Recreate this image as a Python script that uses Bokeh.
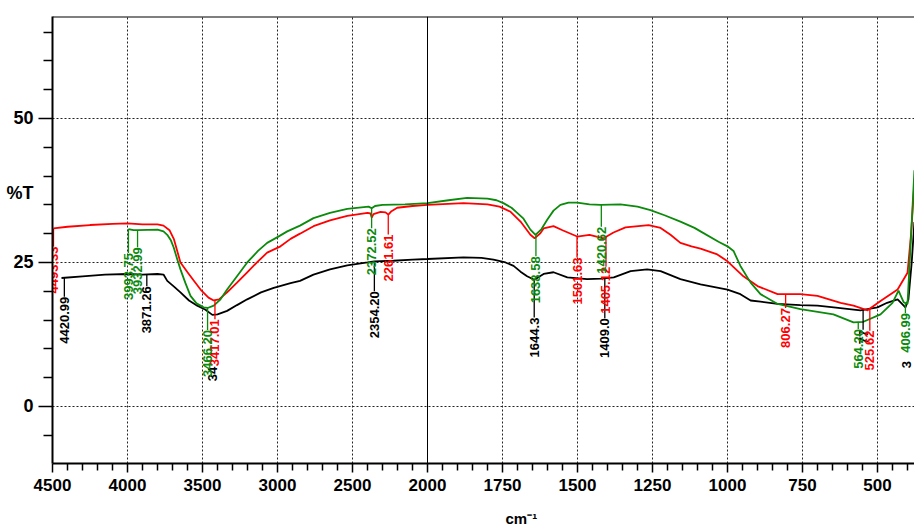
import numpy as np
from bokeh.plotting import figure
from bokeh.models import (Range1d, FixedTicker, CustomJSTickFormatter, Span, Title,
                          LinearAxis, ColumnDataSource)
from bokeh.core.properties import value
from bokeh.embed import file_html
from bokeh.resources import INLINE

# ---------------- data (wavenumber cm-1, %T) ----------------
black_wn = [4440, 4300, 4150, 4000, 3900, 3800, 3760, 3735, 3690, 3647, 3590, 3535, 3480,
            3434, 3400, 3336, 3270, 3202, 3110, 3025, 2913, 2850, 2760, 2650, 2535, 2400,
            2354, 2227, 2100, 2000, 1880, 1820, 1780, 1740, 1713, 1690, 1668, 1644, 1613,
            1580, 1534, 1468, 1420, 1379, 1323, 1268, 1223, 1157, 1090, 1000, 957, 923,
            890, 833, 757, 700, 646, 557, 500, 468, 433, 407, 397, 386, 377]
black_t = [22.3, 22.6, 22.9, 23.0, 22.9, 23.0, 22.9, 21.8, 20.8, 19.8, 18.4, 17.5, 16.8,
           15.9, 16.0, 16.6, 17.6, 18.6, 19.8, 20.6, 21.4, 21.8, 22.9, 23.8, 24.5, 25.0,
           25.2, 25.3, 25.5, 25.6, 25.9, 25.8, 25.5, 25.0, 24.4, 23.4, 22.6, 22.0, 23.0,
           23.3, 22.4, 22.1, 22.2, 22.4, 23.5, 23.8, 23.5, 22.1, 21.2, 20.3, 19.5, 18.4,
           18.2, 17.8, 17.6, 17.5, 17.2, 16.7, 17.2, 18.0, 18.6, 17.2, 18.6, 25.0, 32.0]

red_wn = [4493, 4400, 4250, 4100, 4000, 3900, 3800, 3760, 3720, 3690, 3647, 3600, 3560,
          3513, 3460, 3425, 3390, 3336, 3270, 3202, 3130, 3069, 2980, 2913, 2850, 2760,
          2650, 2535, 2400, 2380, 2372, 2360, 2313, 2280, 2261, 2240, 2202, 2100, 2000,
          1880, 1800, 1760, 1723, 1690, 1657, 1643, 1625, 1613, 1580, 1550, 1501, 1460,
          1413, 1380, 1340, 1263, 1223, 1190, 1157, 1120, 1090, 1034, 1000, 947, 900,
          833, 757, 700, 623, 580, 533, 490, 433, 400, 388, 377]
red_t = [30.9, 31.2, 31.5, 31.7, 31.8, 31.6, 31.6, 31.4, 30.6, 29.0, 25.0, 23.3, 21.9,
         20.3, 18.9, 18.4, 18.6, 19.8, 21.5, 23.3, 25.2, 26.7, 27.8, 29.1, 30.0, 31.3,
         32.3, 33.1, 33.6, 33.5, 32.8, 33.4, 33.8, 33.7, 33.3, 33.9, 34.5, 34.8, 35.0,
         35.3, 35.1, 34.7, 33.8, 32.1, 29.8, 29.2, 30.0, 30.9, 31.3, 30.6, 29.5, 29.8,
         29.2, 30.2, 31.1, 31.5, 31.0, 29.8, 28.4, 27.8, 27.4, 26.4, 25.2, 22.6, 20.9,
         19.5, 19.5, 19.2, 18.0, 17.5, 16.7, 18.3, 20.3, 23.2, 30.0, 39.0]

green_wn = [3994, 3960, 3932, 3800, 3760, 3735, 3710, 3692, 3670, 3647, 3615, 3580, 3540,
            3493, 3466, 3425, 3380, 3336, 3270, 3202, 3130, 3069, 3000, 2935, 2850, 2760,
            2650, 2535, 2393, 2372, 2350, 2300, 2150, 2000, 1930, 1868, 1800, 1770, 1747,
            1720, 1701, 1680, 1657, 1640, 1620, 1601, 1580, 1557, 1530, 1501, 1460, 1423,
            1357, 1300, 1257, 1210, 1157, 1110, 1090, 1030, 1000, 980, 957, 923, 890, 833,
            757, 647, 580, 547, 490, 450, 430, 413, 400, 390, 377]
green_t = [30.8, 30.6, 30.6, 30.7, 30.4, 29.8, 28.8, 27.6, 25.7, 23.8, 21.5, 19.2, 17.9,
           17.2, 17.1, 17.5, 18.6, 20.3, 22.6, 25.0, 27.0, 28.4, 29.4, 30.4, 31.4, 32.7,
           33.6, 34.3, 34.7, 34.4, 34.8, 35.0, 35.1, 35.3, 35.8, 36.2, 36.1, 35.8, 35.3,
           34.5, 33.6, 32.6, 30.7, 29.8, 30.8, 32.4, 34.0, 35.0, 35.4, 35.4, 35.1, 35.0,
           35.1, 34.7, 34.1, 33.2, 32.1, 31.0, 30.4, 28.6, 27.8, 27.0, 24.4, 21.5, 19.5,
           17.8, 16.9, 16.0, 14.6, 14.7, 16.0, 18.0, 20.1, 18.1, 17.8, 27.8, 41.0]

# peak labels: wavenumber, text, series
lab_wn = [4420.99, 3871.26, 3434.0, 2354.20, 1644.3, 1409.0, 548.0, 403.0,
          4493.33, 3417.01, 2261.61, 1501.63, 1405.12, 806.27, 525.62,
          3993.75, 3932.99, 3466.20, 2372.52, 1638.58, 1420.62, 564.20, 406.99]
lab_text = ["4420.99", "3871.26", "34", "2354.20", "1644.3", "1409.0", "77", "3",
            "4493.33", "3417.01", "2261.61", "1501.63", "1405.12", "806.27", "525.62",
            "3993.75", "3932.99", "3466.20", "2372.52", "1638.58", "1420.62", "564.20", "406.99"]
lab_series = ["black"] * 8 + ["red"] * 7 + ["green"] * 8

# layout of labels (pixels below the curve)
lab_drop_px = [19, 12, 52, 30, 38, 40, 20, 57,
               18, 19, 20, 21, 30, 14, 22,
               24, 17, 22, 20, 22, 22, 7, 10]
lab_lead = [1, 1, 0, 1, 1, 1, 1, 0,
            1, 1, 1, 1, 1, 1, 1,
            1, 1, 1, 1, 1, 1, 1, 1]

x_tick_wn = [4500, 4000, 3500, 3000, 2500, 2000, 1750, 1500, 1250, 1000, 750, 500]
y_ticks = [0, 25, 50]
y_title_pos = 37          # where the "%T" caption sits on the y scale

COL = {"black": "#000000", "red": "#ff0000", "green": "#0b8a0b"}
FONT = "Liberation Sans"


def to_u(wn):
    wn = np.asarray(wn, dtype=float)
    return np.where(wn >= 2000, 4500 - wn, 2500 + 2 * (2000 - wn))


X_END_WN = 376.7
Y0, Y1 = -9.9, 67.7
W, H = 914, 527
BL, BR, BT, BB = 52, 0, 16, 63
px_per_t = (H - BT - BB) / (Y1 - Y0)

p = figure(width=W, height=H, output_backend="svg", toolbar_location=None,
           x_range=Range1d(0, float(to_u(X_END_WN))), y_range=Range1d(Y0, Y1),
           min_border_left=BL, min_border_right=BR, min_border_top=BT, min_border_bottom=BB)
p.background_fill_color = "white"
p.border_fill_color = "white"
p.outline_line_color = None

u_major = [float(v) for v in to_u(x_tick_wn)]
u_minor = [float(v) for v in np.arange(0, float(to_u(X_END_WN)), 100.0) if v not in u_major]
xt = FixedTicker(ticks=u_major, minor_ticks=u_minor)
yt = FixedTicker(ticks=y_ticks, minor_ticks=[-5, 5, 10, 15, 20, 30, 35, 40, 45, 55, 60, 65])

p.xaxis.ticker = xt
p.yaxis.ticker = yt
p.xgrid.ticker = xt
p.ygrid.ticker = yt
p.xaxis.formatter = CustomJSTickFormatter(
    code="return (tick <= 2500 ? 4500 - tick : 2000 - (tick - 2500) / 2).toFixed(0);")

for ax in (p.xaxis[0], p.yaxis[0]):
    ax.axis_line_width = 2
    ax.axis_line_color = "black"
    ax.major_tick_line_color = "black"
    ax.minor_tick_line_color = "black"
    ax.major_tick_line_width = 1.5
    ax.minor_tick_line_width = 1.5
    ax.major_tick_in = 0
    ax.minor_tick_in = 0
    ax.major_label_text_font = FONT
    ax.major_label_text_font_style = "bold"
    ax.major_label_text_color = "black"

p.xaxis.major_tick_out = 9
p.xaxis.minor_tick_out = 7
p.xaxis.major_label_text_font_size = "17px"
p.xaxis.major_label_standoff = 6
# blank spacer caption that pushes the cm-1 title a little lower
p.xaxis.axis_label = " "
p.xaxis.axis_label_text_font_size = "6px"
p.xaxis.axis_label_standoff = 4

# inner y axis: line and tick marks only
p.yaxis.major_tick_out = 14
p.yaxis.minor_tick_out = 9
p.yaxis.major_label_standoff = 0
p.yaxis.major_label_text_font_size = "18px"
p.yaxis.formatter = CustomJSTickFormatter(code="return '';")

# outer y axis: tick labels plus the %T caption
lab_ticker = FixedTicker(ticks=sorted(y_ticks + [y_title_pos]), minor_ticks=[])
yl = LinearAxis(ticker=lab_ticker,
                formatter=CustomJSTickFormatter(
                    args=dict(cap=y_title_pos),
                    code="return tick == cap ? '%T' : tick.toFixed(0);"),
                axis_line_color=None, major_tick_line_color=None, minor_tick_line_color=None,
                major_tick_out=0, major_tick_in=0, minor_tick_out=0, minor_tick_in=0,
                major_label_standoff=5, major_label_text_font=FONT,
                major_label_text_font_style="bold", major_label_text_font_size="18px",
                major_label_text_color="black")
p.add_layout(yl, "left")

for g in (p.xgrid[0], p.ygrid[0]):
    g.grid_line_color = "#222222"
    g.grid_line_dash = "2 2"
    g.grid_line_width = 1

# scale-change line at 2000 and top frame line
p.add_layout(Span(location=float(to_u(2000)), dimension="height", line_color="black", line_width=1))
p.add_layout(Span(location=Y1, dimension="width", line_color="black", line_width=2))

series = {"black": (black_wn, black_t), "red": (red_wn, red_t), "green": (green_wn, green_t)}
for name in ("black", "red", "green"):
    wn, t = series[name]
    p.line(to_u(wn), t, line_color=COL[name], line_width=1.8)

# peak labels
lx, ly0, ly1, ltop, lcol, ltxt = [], [], [], [], [], []
for wn_, txt, s, d, lead in zip(lab_wn, lab_text, lab_series, lab_drop_px, lab_lead):
    swn, st = series[s]
    yc = float(np.interp(wn_, swn[::-1], st[::-1]))
    top = yc - d / px_per_t
    u = float(to_u(wn_))
    lx.append(u)
    ly0.append(yc)
    ly1.append(top if lead else yc)
    ltop.append(top)
    lcol.append(COL[s])
    ltxt.append(txt)

src = ColumnDataSource(dict(x=lx, y0=ly0, y1=ly1, top=ltop, c=lcol, t=ltxt))
p.segment(x0="x", y0="y0", x1="x", y1="y1", line_color="c", line_width=1.3, source=src)
p.text(x="x", y="top", text="t", angle=np.pi / 2, text_align="right", text_baseline="middle",
       text_color="c", text_font=value(FONT), text_font_style="bold",
       text_font_size="13px", source=src)

# x caption below the axis
p.add_layout(Title(text="cm⁻¹", align="left", offset=453, text_font=FONT,
                   text_font_style="bold", text_font_size="15px", text_color="black",
                   standoff=2), "below")

open("out.html", "w").write(file_html(p, INLINE))
